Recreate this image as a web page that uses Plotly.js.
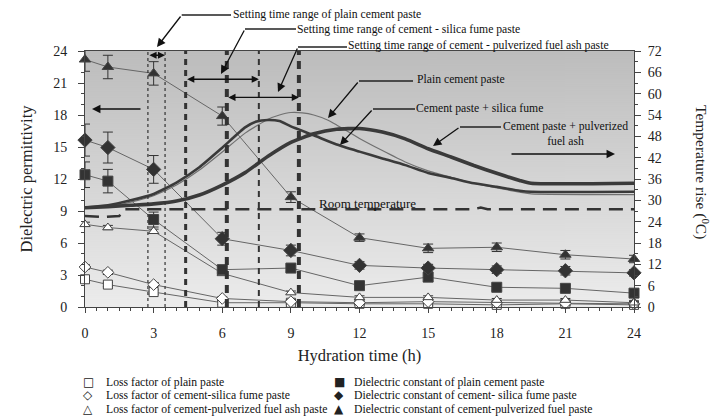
<!DOCTYPE html>
<html><head><meta charset="utf-8">
<script src="https://cdn.plot.ly/plotly-3.0.1.min.js"></script>
<style>body{margin:0;background:#fff}#chart{width:718px;height:419px}</style>
</head><body><div id="chart"></div>
<script>
// ---- data ----
const hours = [0, 1, 3, 6, 9, 12, 15, 18, 21, 24];
const lossPlain = [2.6, 2.1, 1.4, 0.4, 0.4, 0.3, 0.3, 0.2, 0.3, 0.2];
const lossSF    = [3.75, 3.25, 2.1, 0.8, 0.5, 0.4, 0.5, 0.4, 0.35, 0.3];
const lossFA    = [7.75, 7.45, 7.1, 3.15, 1.35, 0.9, 0.9, 0.65, 0.65, 0.4];
const dielPlain = [12.4, 11.8, 8.2, 3.5, 3.65, 2.0, 2.8, 1.85, 1.75, 1.3];
const dielSF    = [15.65, 14.95, 12.9, 6.4, 5.3, 3.9, 3.65, 3.5, 3.4, 3.2];
const dielFA    = [23.2, 22.5, 21.9, 17.9, 10.3, 6.5, 5.5, 5.6, 4.9, 4.5];
const errLoss      = [0.2, 0.2, 0.2, 0.15, 0.15, 0.15, 0.15, 0.15, 0.15, 0.15];
const errDielPlain = [1.2, 1.1, 0.7, 0.3, 0.3, 0.3, 0.4, 0.3, 0.3, 0.3];
const errDielSF    = [1.5, 1.45, 1.3, 0.6, 0.5, 0.35, 0.35, 0.35, 0.4, 0.3];
const errDielFA    = [1.1, 1.1, 1.1, 0.85, 0.5, 0.35, 0.4, 0.4, 0.4, 0.35];

const tempPlainH = [0, 1, 2, 3, 4, 5, 6, 7, 8, 8.5, 9, 9.5, 10, 10.6, 11, 12, 13, 14, 15, 16, 17, 18, 19, 19.5, 24];
const tempPlain  = [27.9, 28.3, 29.5, 31.3, 34.3, 38.5, 43.6, 48.9, 52.8, 54.0, 54.7, 54.6, 54.0, 52.6, 51.2, 47.4, 44.0, 40.8, 38.3, 36.5, 34.8, 33.5, 32.3, 31.8, 31.6];
const tempSFH = [0, 1, 2, 3, 4, 5, 6, 7, 7.5, 8, 8.5, 9, 10, 11, 12, 13, 14, 15, 16, 17, 18, 19, 19.5, 24];
const tempSF  = [28.0, 28.6, 30.0, 31.8, 35.0, 39.3, 44.8, 50.5, 52.2, 52.6, 52.3, 50.8, 48.3, 45.7, 43.7, 41.8, 39.9, 37.7, 36.3, 34.8, 33.8, 32.7, 32.4, 32.4];
const tempFAH = [0, 1, 2, 3, 4, 5, 6, 7, 8, 9, 10, 11, 12, 13, 14, 15, 16, 17, 18, 19, 19.5, 24];
const tempFA  = [27.9, 28.2, 28.6, 29.0, 29.8, 31.5, 34.3, 37.8, 42.4, 46.3, 48.7, 50.0, 50.2, 49.2, 47.3, 44.5, 42.2, 39.8, 37.6, 35.6, 34.8, 34.8];
const roomH = [0, 0.8, 1.5, 1.7, 17.0, 17.3, 17.6, 24];
const roomT = [25.6, 25.3, 25.6, 27.5, 27.5, 28.0, 27.5, 27.5];

const setPlain = [2.75, 3.5];
const setSF = [4.4, 7.6];
const setFA = [6.2, 9.35];

const legendNames = [
  'Loss factor of plain paste', 'Loss factor of cement-silica fume paste', 'Loss factor of cement-pulverized fuel ash paste',
  'Dielectric constant of plain cement paste', 'Dielectric constant of cement- silica fume paste', 'Dielectric constant of cement-pulverized fuel paste'];
const legendSymbols = ['\u25A1', '\u25C7', '\u25B3', '\u25A0', '\u25C6', '\u25B2'];

// ---- helpers ----
const L = 85, R = 634, T = 51, B = 307;
const px = x => (x - L) / (R - L);
const py = y => (B - y) / (B - T);
const SERIF = 'Liberation Serif';

function gradientURL() {
  const c = document.createElement('canvas');
  c.width = 4; c.height = 256;
  const g = c.getContext('2d');
  const gr = g.createLinearGradient(0, 0, 0, 256);
  gr.addColorStop(0, '#bcbcbc');
  gr.addColorStop(1, '#ececec');
  g.fillStyle = gr; g.fillRect(0, 0, 4, 256);
  return c.toDataURL();
}

function pts(name, y, err, symbol, filled, size) {
  return {
    x: hours, y: y, name: name, type: 'scatter', mode: 'lines+markers', cliponaxis: false,
    line: {color: '#666', width: 1},
    marker: {symbol: symbol, size: size, color: filled ? '#333' : '#fff', line: {color: '#444', width: 1}},
    error_y: {type: 'data', array: err, visible: true, color: '#333', thickness: 1, width: 5},
    showlegend: false
  };
}
function temp(name, x, y, w, c) {
  return {x: x, y: y, name: name, yaxis: 'y2', type: 'scatter', mode: 'lines',
    line: {color: c, width: w, shape: 'spline', smoothing: 0.5}, showlegend: false};
}

const traces = [
  temp('Plain cement paste', tempPlainH, tempPlain, 1.2, '#707070'),
  temp('Cement paste + silica fume', tempSFH, tempSF, 2.6, '#3a3a3a'),
  temp('Cement paste + pulverized fuel ash', tempFAH, tempFA, 3.6, '#3a3a3a'),
  {x: roomH, y: roomT, yaxis: 'y2', name: 'Room temperature', type: 'scatter', mode: 'lines',
   line: {color: '#333', width: 2.5, dash: '14px,8px'}, showlegend: false},
  pts(legendNames[0], lossPlain, errLoss, 'square', false, 9),
  pts(legendNames[1], lossSF, errLoss, 'diamond', false, 9),
  pts(legendNames[2], lossFA, errLoss, 'triangle-up', false, 9),
  pts(legendNames[3], dielPlain, errDielPlain, 'square', true, 10),
  pts(legendNames[4], dielSF, errDielSF, 'diamond', true, 11),
  pts(legendNames[5], dielFA, errDielFA, 'triangle-up', true, 10)
];

// vertical setting-time lines
const shapes = [];
function vline(x, dash, w) {
  shapes.push({type: 'line', xref: 'x', yref: 'paper', x0: x, x1: x, y0: 0, y1: 1,
    line: {color: '#333', width: w, dash: dash}});
}
vline(setPlain[0], 'dot', 1.2); vline(setPlain[1], 'dot', 1.2);
vline(setSF[0], '6px,5px', 3); vline(setSF[1], '6px,5px', 2);
vline(setFA[0], '8px,6px', 4); vline(setFA[1], '8px,6px', 4);

function hseg(x0, x1, y) {
  shapes.push({type: 'line', xref: 'paper', yref: 'paper', x0: px(x0), x1: px(x1), y0: py(y), y1: py(y),
    line: {color: '#222', width: 1.3}});
}
const annotations = [];
function arrow(tx, ty, hx, hy) {
  annotations.push({xref: 'paper', yref: 'paper', x: px(hx), y: py(hy), ax: tx - hx, ay: ty - hy,
    text: '', showarrow: true, arrowhead: 2, arrowsize: 1.3, arrowwidth: 1.3, arrowcolor: '#111'});
}
function label(text, x, y, size) {
  annotations.push({xref: 'paper', yref: 'paper', x: px(x), y: py(y), xanchor: 'left', yanchor: 'middle',
    text: text, showarrow: false, font: {family: SERIF, size: size || 11.7, color: '#111'}});
}
function dbl(x0, x1, y) {
  annotations.push({xref: 'x', yref: 'y', axref: 'x', ayref: 'y', x: x1, y: y, ax: x0, ay: y,
    text: '', showarrow: true, arrowside: 'end+start', arrowhead: 2, arrowsize: 1.1, arrowwidth: 1.3, arrowcolor: '#111'});
}
dbl(setPlain[0], setPlain[1], 23.6);
dbl(setSF[0], setSF[1], 21.35);
dbl(setFA[0], setFA[1], 19.65);

label('Setting time range of plain cement paste', 231, 14);
hseg(181.7, 231, 15); arrow(181.7, 15, 157, 47);
label('Setting time range of cement - silica fume paste', 295, 29);
hseg(245, 296, 29); arrow(245, 29, 221, 74);
label('Setting time range of cement - pulverized fuel ash paste', 346, 45);
hseg(298, 347, 47); arrow(298, 47, 278, 92);

label('Plain cement paste', 415, 79);
hseg(359, 413, 81); arrow(359, 81, 328, 118);
label('Cement paste + silica fume', 414, 108);
hseg(373, 415, 109); arrow(373, 109, 340, 145);
label('Cement paste + pulverized<br>fuel ash', 501, 134);
hseg(460, 501, 127); arrow(460, 127, 433, 146);

arrow(142, 109, 92, 109);
arrow(510, 154, 615, 154);
label('Room temperature', 317, 203, 13);

annotations.push({xref: 'paper', yref: 'paper', x: px(702), y: py(172), textangle: 90,
  text: 'Temperature rise (<sup>0</sup>C)', showarrow: false, xanchor: 'center', yanchor: 'middle',
  font: {family: SERIF, size: 15.5, color: '#222'}});

// legend as text
const legX = [[88, 104], [339, 352]];
const legY = [382, 395, 409];
for (let i = 0; i < 6; i++) {
  const col = Math.floor(i / 3), row = i % 3;
  annotations.push({xref: 'paper', yref: 'paper', x: px(legX[col][0]), y: py(legY[row]), xanchor: 'center', yanchor: 'middle',
    text: legendSymbols[i], showarrow: false, font: {family: 'DejaVu Sans', size: 12, color: '#222'}});
  label(legendNames[i], legX[col][1], legY[row], 11.7);
}

const axisBase = {showgrid: false, zeroline: false, showline: true, linecolor: '#444', linewidth: 1,
  ticks: 'outside', tickcolor: '#444', tickfont: {family: SERIF, size: 14, color: '#222'}};

const layout = {
  width: 718, height: 419, margin: {l: L, r: 718 - R, t: T, b: 419 - B},
  paper_bgcolor: '#fff', plot_bgcolor: 'rgba(0,0,0,0)',
  font: {family: SERIF},
  showlegend: false,
  images: [{source: gradientURL(), xref: 'paper', yref: 'paper', x: 0, y: 1, sizex: 1, sizey: 1,
    sizing: 'stretch', xanchor: 'left', yanchor: 'top', layer: 'below'}],
  xaxis: Object.assign({}, axisBase, {range: [0, 24], tick0: 0, dtick: 3, ticklen: 5, mirror: true,
    ticklabelstandoff: 8, minor: {dtick: 0.5, ticklen: 3, ticks: 'outside', tickcolor: '#444'},
    title: {text: 'Hydration time (h)', font: {family: SERIF, size: 16.5, color: '#222'}, standoff: 9}}),
  yaxis: Object.assign({}, axisBase, {range: [0, 24], tick0: 0, dtick: 3, ticklen: 6, ticklabelstandoff: 8,
    minor: {dtick: 1, ticklen: 3, ticks: 'outside', tickcolor: '#444'},
    title: {text: 'Dielectric permittivity', font: {family: SERIF, size: 16.5, color: '#222'}, standoff: 16}}),
  yaxis2: Object.assign({}, axisBase, {overlaying: 'y', side: 'right', range: [0, 72], tick0: 0, dtick: 6, ticklen: 6,
    ticklabelstandoff: 4, minor: {dtick: 3, ticklen: 3, ticks: 'outside', tickcolor: '#444'}}),
  shapes: shapes, annotations: annotations
};

Plotly.newPlot('chart', traces, layout, {staticPlot: true});
</script></body></html>
